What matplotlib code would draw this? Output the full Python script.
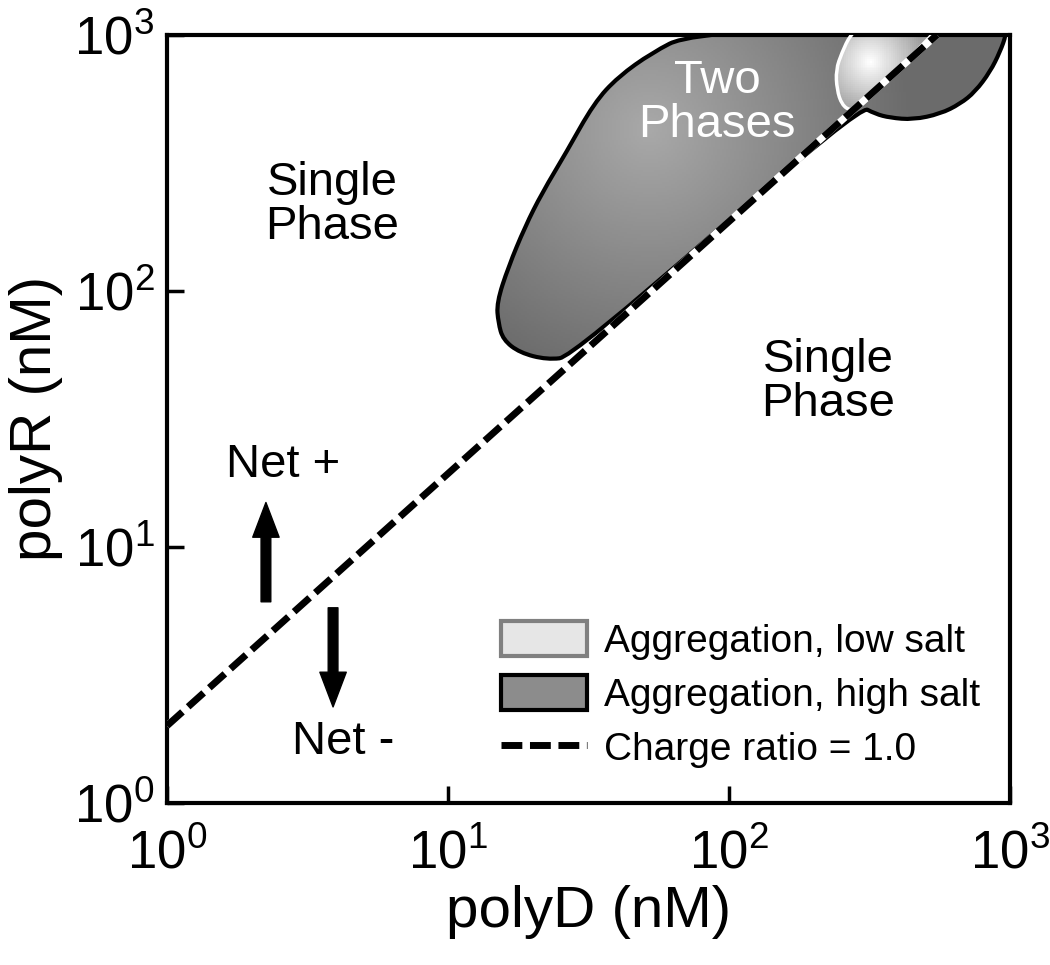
import numpy as np
import matplotlib
matplotlib.use("Agg")
import matplotlib.pyplot as plt
from matplotlib.patches import PathPatch, Patch
from matplotlib.path import Path
from matplotlib.lines import Line2D

plt.rcParams["font.family"] = ["Liberation Sans", "DejaVu Sans"]
plt.rcParams["mathtext.fontset"] = "custom"
plt.rcParams["mathtext.rm"] = "Liberation Sans"
plt.rcParams["mathtext.it"] = "Liberation Sans"

# charge ratio = 1.0 line (polyD, polyR in nM)
charge_x = [1.0, 550.0]
charge_y = [2.0, 1000.0]

# aggregation region, high salt (outline vertices, nM)
high_x = [70.9, 53.2, 40.3, 33.1, 26.3, 21.6, 18.8, 16.4, 14.9, 15.1, 15.7, 18.0, 22.5, 27.6,
          292, 331, 374, 452, 564, 664, 751, 849, 921, 968, 968, 300]
high_y = [1000, 851, 685, 542, 346, 241, 178, 124, 89.8, 75.0, 64.4, 57.3, 53.8, 55.2,
          528, 491, 474, 466, 491, 537, 599, 717, 858, 1000, 1100, 1100]

# aggregation region, low salt
low_x = [270, 252, 240, 242, 252, 270, 292, 532, 560, 300]
low_y = [1000, 851, 730, 610, 533, 505, 519, 1000, 1100, 1100]

tick_vals = [1, 10, 100, 1000]
tick_labels = [r"$\mathregular{10^{0}}$", r"$\mathregular{10^{1}}$",
               r"$\mathregular{10^{2}}$", r"$\mathregular{10^{3}}$"]


def smooth_path(xs, ys):
    # closed quadratic-bezier path through edge midpoints (in log space)
    lx, ly = np.log10(xs), np.log10(ys)
    n = len(lx)
    mx = (lx + np.roll(lx, -1)) / 2
    my = (ly + np.roll(ly, -1)) / 2
    verts = [(mx[-1], my[-1])]
    codes = [Path.MOVETO]
    for i in range(n):
        verts += [(lx[i], ly[i]), (mx[i], my[i])]
        codes += [Path.CURVE3, Path.CURVE3]
    verts = 10 ** np.array(verts)
    return Path(verts, codes)


def gradient_fill(ax, xs, ys, center, scale, c0, c1, edgecolor, lw):
    poly = PathPatch(smooth_path(xs, ys), facecolor="none", edgecolor=edgecolor,
                     lw=lw, zorder=3)
    ax.add_patch(poly)
    lx = np.linspace(0, 3, 400)
    ly = np.linspace(0, 3, 400)
    LX, LY = np.meshgrid(lx, ly)
    d = np.hypot((LX - np.log10(center[0])) * 281, (LY - np.log10(center[1])) * 256)
    v = np.clip(c0 + (c1 - c0) * d / scale, min(c0, c1), max(c0, c1))
    mesh = ax.pcolormesh(10 ** LX, 10 ** LY, v, cmap="gray", vmin=0, vmax=1,
                         shading="auto", zorder=2, rasterized=True)
    mesh.set_clip_path(poly)
    return poly


fig = plt.figure(figsize=(10.5, 9.65), dpi=100)
ax = fig.add_axes([0.159, 0.168, 0.803, 0.796])
ax.set_xscale("log")
ax.set_yscale("log")
ax.set_xlim(1, 1000)
ax.set_ylim(1, 1000)

gradient_fill(ax, high_x, high_y, (52, 426), 260, 0.66, 0.42, "black", 3)
gradient_fill(ax, low_x, low_y, (318, 784), 55, 1.0, 0.62, "white", 2.5)

ax.plot(charge_x, charge_y, color="white", lw=5, zorder=4, solid_capstyle="butt")
ax.plot(charge_x, charge_y, color="black", lw=5, zorder=5,
        dashes=(3.0, 1.1), dash_capstyle="butt")

txt = dict(fontsize=34, ha="center", va="center", linespacing=1.0, zorder=6)
ax.text(3.87, 217, "Single\nPhase", **txt)
ax.text(225, 44.1, "Single\nPhase", **txt)
ax.text(90.6, 540, "Two\nPhases", color="white", **txt)
ax.text(2.59, 20.9, "Net +", **txt)
ax.text(4.23, 1.73, "Net -", **txt)

arrow = dict(facecolor="black", edgecolor="black", width=7, headwidth=19,
             headlength=25, shrink=0)
ax.annotate("", xy=(2.25, 14.9), xytext=(2.25, 6.1), arrowprops=arrow)
ax.annotate("", xy=(3.9, 2.37), xytext=(3.9, 5.78), arrowprops=arrow)

ax.set_xticks(tick_vals)
ax.set_xticklabels(tick_labels)
ax.set_yticks(tick_vals)
ax.set_yticklabels(tick_labels)
ax.minorticks_off()
ax.tick_params(direction="in", length=12, width=2.5, labelsize=38, pad=9)
ax.tick_params(axis="x", pad=19)
for s in ax.spines.values():
    s.set_linewidth(3)

ax.set_xlabel("polyD (nM)", fontsize=42, labelpad=4)
ax.set_ylabel("polyR (nM)", fontsize=42, labelpad=8)

handles = [
    Patch(facecolor="#e6e6e6", edgecolor="#808080", lw=3),
    Patch(facecolor="#8c8c8c", edgecolor="black", lw=3),
    Line2D([], [], color="black", lw=5, dashes=(3.0, 1.1), dash_capstyle="butt"),
]
labels = ["Aggregation, low salt", "Aggregation, high salt", "Charge ratio = 1.0"]
ax.legend(handles, labels, loc="lower right", bbox_to_anchor=(0.965, 0.045),
          frameon=False, fontsize=28, handlelength=2.2, handleheight=1.0,
          handletextpad=0.45, labelspacing=0.4, borderpad=0, borderaxespad=0)

fig.savefig("out.png", dpi=100)
